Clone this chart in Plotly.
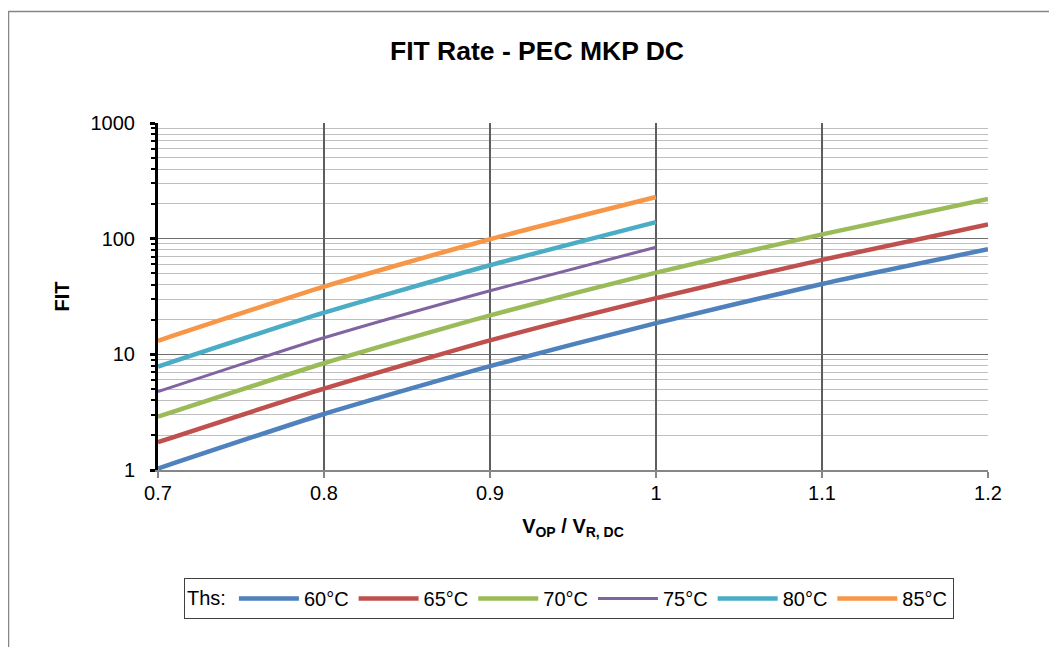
import plotly.graph_objects as go

# Data
x_vals = [0.7, 0.8, 0.9, 1.0, 1.1, 1.2]
x_short = [0.7, 0.8, 0.9, 1.0]

fit_60 = [1.03, 3.05, 7.9, 18.6, 40.6, 81.0]
fit_65 = [1.74, 5.05, 13.2, 30.6, 65.6, 133.0]
fit_70 = [2.89, 8.37, 21.7, 50.9, 109.0, 220.0]
fit_75 = [4.76, 13.9, 35.5, 84.4]
fit_80 = [7.83, 22.9, 58.9, 139.0]
fit_85 = [13.1, 38.5, 98.9, 229.0]

series = [
    ("60°C", x_vals, fit_60, "#4F81BD", 4.5),
    ("65°C", x_vals, fit_65, "#C0504D", 4.5),
    ("70°C", x_vals, fit_70, "#9BBB59", 4.5),
    ("75°C", x_short, fit_75, "#8064A2", 3),
    ("80°C", x_short, fit_80, "#4BACC6", 4.5),
    ("85°C", x_short, fit_85, "#F79646", 4.5),
]

y_tickvals = [1, 10, 100, 1000]
y_ticktext = ["1", "10", "100", "1000"]
x_tickvals = [0.7, 0.8, 0.9, 1.0, 1.1, 1.2]
x_ticktext = ["0.7", "0.8", "0.9", "1", "1.1", "1.2"]

FONT = "Liberation Sans, Arial, sans-serif"

fig = go.Figure()
for name, xs, ys, color, w in series:
    fig.add_trace(go.Scatter(
        x=xs, y=ys, name=name, mode="lines",
        line=dict(color=color, width=w, shape="spline", smoothing=0.6),
    ))

# page body has an 8px margin; target coordinates are reference minus 8
OFF = 8
W, H = 1057 - OFF, 647 - OFF
PX0, PX1, PY0, PY1 = 158 - OFF, 988 - OFF, 123 - OFF, 470 - OFF
L, R, T, B = PX0, W - PX1, PY0, H - PY1
PW, PH = PX1 - PX0, PY1 - PY0

fig.update_layout(
    width=W, height=H,
    margin=dict(l=L, r=R, t=T, b=B),
    paper_bgcolor="white", plot_bgcolor="white",
    font=dict(family=FONT, size=20, color="black"),
    title=dict(text="<b>FIT Rate - PEC MKP DC</b>", x=(537 - OFF) / W, xanchor="center",
               y=1 - (51 - OFF) / H, yanchor="middle", font=dict(size=26.5, family=FONT)),
    showlegend=True,
    legend=dict(
        orientation="h", x=(569 - OFF - L) / PW, xanchor="center",
        y=(PY1 - (578 - OFF)) / PH, yanchor="top",
        bordercolor="#404040", borderwidth=1, bgcolor="white",
        font=dict(size=20, family=FONT),
        title=dict(text="Ths:", side="left", font=dict(size=20, family=FONT)),
        itemwidth=60, tracegroupgap=0,
    ),
    xaxis=dict(
        range=[0.7, 1.2], tickvals=x_tickvals, ticktext=x_ticktext,
        tickfont=dict(size=20, family=FONT),
        showline=True, linecolor="#868686", linewidth=2,
        ticks="outside", ticklen=6, tickwidth=1.5, tickcolor="#868686",
        showgrid=True, gridcolor="#5E5E5E", gridwidth=1.5,
        zeroline=False, ticklabelstandoff=-2,
        title=dict(text="<b>V<sub>OP</sub> / V<sub>R, DC</sub></b>",
                   font=dict(size=20, family=FONT), standoff=16),
    ),
    yaxis=dict(
        type="log", range=[0, 3], tickvals=y_tickvals, ticktext=y_ticktext,
        tickfont=dict(size=20, family=FONT),
        showline=True, linecolor="black", linewidth=3,
        ticks="outside", ticklen=5, tickwidth=2.5, tickcolor="black",
        showgrid=True, gridcolor="#6E6E6E", gridwidth=1.2,
        minor=dict(dtick="D1", ticks="outside", ticklen=4, tickwidth=2, tickcolor="black",
                   showgrid=True, gridcolor="#BFBFBF", gridwidth=1.2),
        zeroline=False, ticklabelstandoff=11,
        title=dict(text="<b>FIT</b>", font=dict(size=20, family=FONT), standoff=16),
    ),
    yaxis2=dict(
        type="log", range=[0, 3], overlaying="y", side="left", anchor="x",
        tickvals=y_tickvals, showticklabels=False,
        ticks="inside", ticklen=4, tickwidth=2.5, tickcolor="black",
        minor=dict(dtick="D1", ticks="inside", ticklen=3, tickwidth=2, tickcolor="black"),
        showgrid=False, showline=False, zeroline=False,
    ),
    shapes=[dict(
        type="rect", xref="paper", yref="paper",
        x0=(8.5 - OFF - L) / PW, x1=1.3,
        y0=-1.0, y1=(PY1 - (11.5 - OFF)) / PH,
        line=dict(color="#868686", width=1.5), fillcolor="rgba(0,0,0,0)", layer="below",
    )],
)

fig.write_html("out.html")
